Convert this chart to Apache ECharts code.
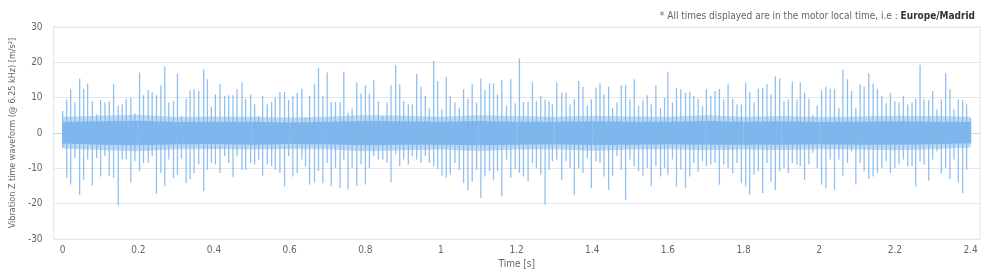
<!DOCTYPE html>
<html>
<head>
<meta charset="utf-8">
<script src="https://cdn.jsdelivr.net/npm/echarts@6/dist/echarts.min.js"></script>
<style>
html,body{margin:0;padding:0;background:#fff;}
#chart{width:1000px;height:276px;}
</style>
</head>
<body>
<div id="chart"></div>
<script>
// ---- Data ----
// Impact events: time [s], positive peak and negative peak [m/s²]
const spikeTime = [
0.0000,0.0106,0.0211,0.0325,0.0449,0.0554,0.0660,0.0783,0.0897,0.1003,
0.1117,0.1231,0.1346,0.1469,0.1574,0.1680,0.1803,0.1909,0.2032,0.2137,
0.2261,0.2366,0.2480,0.2595,0.2700,0.2806,0.2929,0.3034,0.3140,0.3263,
0.3369,0.3474,0.3597,0.3729,0.3826,0.3931,0.4037,0.4160,0.4283,0.4389,
0.4503,0.4609,0.4741,0.4837,0.4969,0.5075,0.5180,0.5286,0.5409,0.5524,
0.5620,0.5743,0.5866,0.5972,0.6086,0.6201,
0.6324,0.6420,0.6526,0.6658,0.6763,0.6878,0.6992,0.7098,0.7212,0.7335,
0.7432,0.7546,0.7652,0.7775,0.7889,0.8003,0.8109,0.8223,0.8346,0.8461,
0.8575,0.8681,0.8804,0.8910,0.9015,0.9138,0.9243,0.9358,0.9472,0.9587,
0.9692,0.9807,0.9912,1.0026,1.0141,1.0246,1.0369,1.0484,1.0598,1.0712,
1.0826,1.0941,1.1055,1.1161,1.1284,1.1390,1.1495,1.1609,1.1733,1.1847,
1.1961,1.2075,1.2181,1.2304,1.2419,1.2524,1.2639,1.2753,1.2858,
1.2946,1.3061,1.3193,1.3307,1.3412,1.3527,1.3641,1.3755,1.3870,1.3976,
1.4098,1.4204,1.4309,1.4433,1.4538,1.4653,1.4767,1.4881,1.4996,1.5110,
1.5224,1.5339,1.5453,1.5559,1.5682,1.5805,1.5910,1.5998,1.6121,1.6227,
1.6341,1.6464,1.6579,1.6684,1.6799,1.6913,1.7018,1.7133,1.7247,1.7361,
1.7476,1.7590,1.7713,1.7827,1.7942,1.8056,1.8162,1.8276,1.8391,1.8505,
1.8619,1.8725,1.8839,1.8953,1.9068,1.9182,1.9288,1.9411,
1.9499,1.9612,1.9727,1.9833,1.9947,2.0061,2.0176,2.0290,2.0404,2.0519,
2.0625,2.0747,2.0853,2.0968,2.1082,2.1187,2.1311,2.1425,2.1539,2.1654,
2.1768,2.1882,2.1997,2.2111,2.2225,2.2340,2.2454,2.2551,2.2665,2.2770,
2.2894,2.3000,2.3113,2.3228,2.3342,2.3456,2.3562,2.3676,2.3791,2.3896,
2.4002
];
const spikeHigh = [
6.2,9.5,12.4,8.6,15.4,12.5,14.0,9.0,5.3,9.3,
8.6,9.0,13.8,7.8,8.1,9.7,10.0,5.5,17.1,10.7,
12.2,11.6,10.7,13.5,18.8,8.6,9.0,16.8,4.8,9.7,
12.1,12.4,11.9,18.0,15.2,7.4,10.9,13.8,10.5,10.7,
10.7,12.4,14.3,9.7,10.9,8.1,4.8,10.5,8.1,8.8,
10.0,11.6,11.6,9.3,10.5,11.4,
12.5,4.3,10.5,13.8,18.5,10.5,17.1,8.8,8.8,8.8,
17.3,5.7,6.9,14.3,11.2,13.5,11.2,15.0,9.0,4.8,
8.6,13.5,19.2,13.8,9.0,8.1,8.1,16.8,13.1,10.5,
6.9,20.4,14.7,6.7,15.9,10.5,8.6,6.9,12.4,9.7,
13.8,8.6,15.4,12.2,14.0,14.0,10.9,15.0,7.8,15.2,
8.4,21.1,8.8,8.8,14.4,9.0,10.5,9.5,9.0,
8.1,14.3,11.4,11.4,8.1,9.7,14.7,13.1,7.8,9.5,
12.8,14.0,10.9,13.1,7.1,8.6,13.5,13.5,9.5,15.2,
7.8,9.3,10.7,8.1,13.5,7.1,10.0,17.3,8.6,12.8,
12.4,11.4,11.6,10.5,9.7,7.6,12.4,10.5,11.9,12.5,
9.5,13.8,9.7,8.1,8.1,14.3,11.6,8.6,12.5,12.8,
13.8,10.9,16.0,15.4,9.0,9.5,14.5,9.5,
14.3,11.4,9.7,5.0,7.8,12.2,13.1,12.5,12.5,7.1,
18.0,15.2,11.9,7.1,13.8,13.1,16.9,14.0,12.5,10.5,
8.4,11.4,9.0,8.6,10.5,8.1,8.6,9.7,19.3,9.5,
9.3,11.9,6.7,9.5,16.9,12.4,6.7,9.5,9.3,8.1,
4.0
];
const spikeLow = [
-4.2,-12.7,-14.6,-7.1,-17.5,-13.2,-7.5,-14.9,-7.1,-12.3,
-6.6,-12.1,-12.7,-20.6,-7.5,-7.5,-14.0,-8.0,-10.8,-8.5,
-8.5,-6.6,-17.2,-11.3,-15.1,-7.5,-12.7,-11.8,-7.3,-14.2,
-13.0,-11.3,-8.9,-16.5,-10.4,-8.5,-8.9,-11.3,-6.6,-8.5,
-12.5,-6.6,-10.4,-10.4,-8.5,-8.9,-7.5,-12.1,-8.9,-9.4,
-10.4,-11.3,-15.1,-6.6,-12.3,-11.3,
-7.5,-9.4,-14.6,-14.0,-10.8,-14.2,-8.5,-15.1,-9.9,-15.6,
-7.5,-15.9,-9.9,-14.9,-8.9,-14.6,-9.9,-6.6,-7.5,-7.5,
-8.5,-14.0,-6.1,-9.4,-7.5,-8.9,-6.6,-7.5,-8.5,-6.6,
-8.5,-9.4,-10.2,-12.1,-12.7,-11.8,-8.5,-10.4,-14.2,-16.1,
-13.7,-10.4,-18.4,-12.3,-10.8,-13.2,-10.8,-17.9,-7.5,-12.7,
-10.2,-11.3,-12.3,-13.7,-8.5,-9.9,-11.8,-20.3,-10.4,
-8.0,-7.5,-13.2,-8.0,-9.9,-17.5,-9.9,-11.3,-7.1,-15.6,
-8.0,-8.5,-12.3,-16.1,-12.1,-6.6,-10.4,-18.9,-7.5,-9.4,
-10.8,-12.1,-9.9,-15.1,-9.4,-12.3,-9.9,-11.8,-7.5,-15.1,
-10.4,-15.6,-12.3,-8.5,-10.8,-8.0,-9.4,-8.9,-8.5,-14.6,
-8.9,-9.9,-11.3,-8.5,-14.2,-15.1,-17.5,-11.8,-10.8,-17.0,
-8.5,-13.7,-16.1,-10.8,-9.9,-11.3,-8.5,-8.9,
-9.4,-13.2,-8.9,-5.6,-9.9,-14.6,-15.6,-7.5,-16.1,-7.5,
-12.1,-8.5,-5.2,-14.6,-8.5,-10.8,-13.0,-12.3,-11.3,-9.9,
-8.0,-11.3,-9.9,-8.9,-7.5,-9.4,-9.4,-15.1,-8.0,-8.9,
-13.5,-7.5,-5.2,-11.4,-9.9,-13.0,-7.5,-14.0,-17.0,-10.4,
-3.0
];
// Background vibration: dense core and its fainter outer fringe, sampled every 0.1 s
const bandTime = [0,0.1,0.2,0.3,0.4,0.5,0.6,0.7,0.8,0.9,1.0,1.1,1.2,1.3,1.4,1.5,1.6,1.7,1.8,1.9,2.0,2.1,2.2,2.3,2.4002];
const coreHigh = [3.1,3.3,3.5,3.1,3.2,3.2,3.0,3.2,3.4,3.3,3.2,3.4,3.2,3.2,3.3,3.2,3.2,3.4,3.2,3.3,3.1,3.2,3.3,3.2,3.1];
const coreLow  = [-3.0,-3.3,-3.5,-3.2,-3.1,-3.3,-3.1,-3.2,-3.5,-3.3,-3.3,-3.5,-3.3,-3.2,-3.4,-3.3,-3.2,-3.3,-3.3,-3.3,-3.2,-3.3,-3.3,-3.2,-2.9];
const fringeHigh = [4.6,4.9,5.2,4.5,4.7,4.6,4.4,4.6,5.1,4.9,4.6,5.0,4.8,4.6,4.9,4.7,4.6,5.0,4.6,4.8,4.5,4.7,4.9,4.8,4.6];
const fringeLow  = [-4.4,-4.8,-5.2,-4.6,-4.5,-4.7,-4.5,-4.6,-5.2,-4.9,-4.7,-5.1,-4.7,-4.6,-5.0,-4.7,-4.6,-4.9,-4.7,-4.8,-4.6,-4.7,-4.9,-4.6,-4.1];
// Axis ticks
const xTicks = [0,0.2,0.4,0.6,0.8,1,1.2,1.4,1.6,1.8,2,2.2,2.4];
const xTickLabels = ['0','0.2','0.4','0.6','0.8','1','1.2','1.4','1.6','1.8','2','2.2','2.4'];
const yTicks = [-30,-20,-10,0,10,20,30];

const FONT = '"DejaVu Sans Condensed","Liberation Sans Narrow","Roboto",sans-serif';
const WAVE = '#7cb5ec';

const spikeData = spikeTime.map((t, i) => [t, spikeHigh[i], spikeLow[i]]);
const coreData = bandTime.map((t, i) => [t, coreHigh[i], coreLow[i]]);
const fringeData = bandTime.map((t, i) => [t, fringeHigh[i], fringeLow[i]]);

function bandRenderer(rows, opacity) {
  return function (params, api) {
    const i = params.dataIndex;
    if (i >= rows.length - 1) return null;
    const n = rows[i + 1];
    const a = api.coord([api.value(0), api.value(1)]);
    const b = api.coord([n[0], n[1]]);
    const c = api.coord([n[0], n[2]]);
    const d = api.coord([api.value(0), api.value(2)]);
    return {type: 'polygon', shape: {points: [a, b, c, d]}, style: {fill: WAVE, opacity: opacity}};
  };
}

const chart = echarts.init(document.getElementById('chart'), null, {renderer: 'canvas'});
chart.setOption({
  animation: false,
  title: {
    text: '{a|* All times displayed are in the motor local time, i.e : }{b|Europe/Madrid}',
    right: 20, top: 6,
    textStyle: {
      fontWeight: 'normal',
      rich: {
        a: {fontSize: 10, color: '#666666', fontWeight: 'normal', fontFamily: FONT},
        b: {fontSize: 10, color: '#333333', fontWeight: 'bold', fontFamily: FONT}
      }
    }
  },
  grid: {left: 52, right: 20, top: 27, bottom: 37, show: true, borderColor: '#e6e6e6', borderWidth: 1, backgroundColor: 'transparent'},
  xAxis: {
    type: 'value', min: -0.024, max: 2.425,
    name: 'Time [s]', nameLocation: 'middle', nameGap: 19,
    nameTextStyle: {color: '#666666', fontSize: 10, fontFamily: FONT},
    axisLine: {show: true, lineStyle: {color: '#ccd6eb'}},
    axisTick: {show: true, customValues: xTicks, length: 5, lineStyle: {color: '#ccd6eb'}},
    axisLabel: {customValues: xTicks, margin: 6, color: '#666666', fontSize: 10, fontFamily: FONT,
      formatter: v => xTickLabels[xTicks.indexOf(v)] ?? String(v)},
    splitLine: {show: false}
  },
  yAxis: {
    type: 'value', min: yTicks[0], max: yTicks[yTicks.length - 1], interval: 10,
    name: 'Vibration Z time waveform (@ 6.25 kHz) [m/s²]', nameLocation: 'middle', nameGap: 26,
    nameTextStyle: {color: '#666666', fontSize: 9, fontFamily: FONT},
    axisLine: {show: false}, axisTick: {show: false},
    axisLabel: {margin: 11, color: '#666666', fontSize: 10, fontFamily: FONT},
    splitLine: {show: true, lineStyle: {color: '#e6e6e6'}}
  },
  series: [
    {
      type: 'custom', name: 'fringe', clip: true,
      data: fringeData, encode: {x: 0, y: [1, 2]},
      renderItem: bandRenderer(fringeData, 0.5), z: 2
    },
    {
      type: 'custom', name: 'core', clip: true,
      data: coreData, encode: {x: 0, y: [1, 2]},
      renderItem: bandRenderer(coreData, 0.95), z: 2
    },
    {
      type: 'custom', name: 'impacts', clip: true,
      data: spikeData,
      encode: {x: 0, y: [1, 2]},
      renderItem: function (params, api) {
        const p1 = api.coord([api.value(0), api.value(1)]);
        const p2 = api.coord([api.value(0), api.value(2)]);
        return {type: 'line', shape: {x1: p1[0], y1: p1[1], x2: p2[0], y2: p2[1]},
          style: {stroke: WAVE, lineWidth: 1.3, opacity: 0.85}};
      },
      z: 3
    }
  ]
});
</script>
</body>
</html>
